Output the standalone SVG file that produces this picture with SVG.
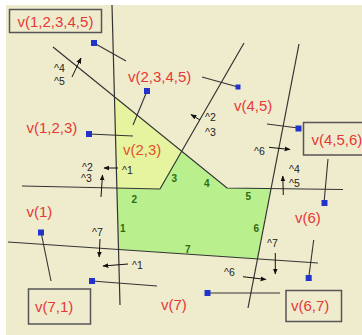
<svg xmlns="http://www.w3.org/2000/svg" width="362" height="335" viewBox="0 0 362 335">
<defs>
<marker id="ah" viewBox="0 0 10 10" refX="9" refY="5" markerWidth="6" markerHeight="6" orient="auto" markerUnits="userSpaceOnUse">
<path d="M0,1 L10,5 L0,9 z" fill="#111"/>
</marker>
<style>
.ln{stroke:#333;stroke-width:1.2;fill:none}
.cn{stroke:#333;stroke-width:1.1;fill:none}
.ar{stroke:#111;stroke-width:1;fill:none;marker-end:url(#ah)}
.dot{fill:#2233cc}
.red{font-family:"Liberation Sans",Arial,sans-serif;font-size:15px;fill:#e53935}
.hat{font-family:"Liberation Sans",Arial,sans-serif;font-size:10.5px;fill:#222}
.edge{font-family:"Liberation Sans",Arial,sans-serif;font-size:10px;font-weight:bold;fill:#2e6b14}
.box{fill:none;stroke:#555;stroke-width:1.5}
</style>
</defs>
<rect x="0" y="0" width="362" height="335" fill="#ffffff"/>
<rect x="6" y="5" width="356" height="330" fill="#efecce"/>

<g id="regions">
<polygon points="114.5,97 182,151 160,189 117,188" fill="#e6f4a0"/>
<polygon points="117,188 160,189 182,151 227,188 271,188 257.5,259 118.6,249.5" fill="#b9ef8c"/>
</g>

<g id="connectors">
<line class="ln" x1="112" y1="5" x2="120" y2="305"/>
<polyline class="ln" points="53,47 227,188 343,189.5"/>
<polyline class="ln" points="22,186 160,189 244,43"/>
<line class="ln" x1="299" y1="44" x2="248" y2="308"/>
<line class="ln" x1="8" y1="242" x2="318" y2="263"/>

<line class="cn" x1="94" y1="43" x2="126" y2="61"/>
<line class="cn" x1="147" y1="91" x2="133" y2="125"/>
<line class="cn" x1="89" y1="134" x2="133" y2="136"/>
<line class="cn" x1="202" y1="77" x2="238" y2="87"/>
<line class="cn" x1="267" y1="124" x2="298" y2="128"/>
<line class="cn" x1="328" y1="159" x2="324" y2="203"/>
<line class="cn" x1="41" y1="232" x2="51" y2="281"/>
<line class="cn" x1="92" y1="281" x2="157" y2="286"/>
<line class="cn" x1="313.7" y1="240" x2="308.7" y2="278"/>
<line class="cn" x1="207" y1="293" x2="280" y2="293"/>

<line class="ar" x1="72" y1="77" x2="81" y2="58"/>
<line class="ar" x1="200" y1="120" x2="191" y2="114.5"/>
<line class="ar" x1="118" y1="168" x2="104" y2="168"/>
<line class="ar" x1="101" y1="197" x2="102.5" y2="175"/>
<line class="ar" x1="269" y1="147.3" x2="290" y2="149.5"/>
<line class="ar" x1="283.3" y1="195" x2="282.8" y2="176"/>
<line class="ar" x1="100" y1="239" x2="99.2" y2="257"/>
<line class="ar" x1="128" y1="264" x2="103" y2="266"/>
<line class="ar" x1="275.3" y1="253" x2="275.3" y2="274"/>
<line class="ar" x1="243" y1="276.7" x2="266" y2="279.5"/>
</g>

<g id="dots">
<rect class="dot" x="91" y="40" width="6" height="6"/>
<rect class="dot" x="144" y="88" width="6" height="6"/>
<rect class="dot" x="86" y="131" width="6" height="6"/>
<rect class="dot" x="235.5" y="84.5" width="5" height="5"/>
<rect class="dot" x="295.5" y="125.5" width="6" height="6"/>
<rect class="dot" x="321.5" y="200" width="6" height="6"/>
<rect class="dot" x="38" y="229.5" width="6" height="6"/>
<rect class="dot" x="89" y="278" width="6" height="6"/>
<rect class="dot" x="305.7" y="275" width="6" height="6"/>
<rect class="dot" x="204.5" y="290" width="6" height="6"/>
</g>

<g id="node-v12345">
<rect class="box" x="9.5" y="9.5" width="92" height="23"/>
<text class="red" x="17.5" y="27">v(1,2,3,4,5)</text>
</g>
<g id="node-v2345"><text class="red" x="128" y="82">v(2,3,4,5)</text></g>
<g id="node-v45"><text class="red" x="234" y="111">v(4,5)</text></g>
<g id="node-v123"><text class="red" x="26.5" y="133">v(1,2,3)</text></g>
<g id="node-v23"><text class="red" x="123" y="155" style="fill:#e4512a">v(2,3)</text></g>
<g id="node-v456">
<rect class="box" x="303.5" y="122.5" width="62" height="32.5"/>
<text class="red" x="311.5" y="145">v(4,5,6)</text>
</g>
<g id="node-v1"><text class="red" x="26.5" y="217">v(1)</text></g>
<g id="node-v6"><text class="red" x="295" y="223">v(6)</text></g>
<g id="node-v71">
<rect class="box" x="28.5" y="289" width="62" height="35"/>
<text class="red" x="35" y="312">v(7,1)</text>
</g>
<g id="node-v7"><text class="red" x="161" y="310">v(7)</text></g>
<g id="node-v67">
<rect class="box" x="286" y="290.5" width="55.5" height="31"/>
<text class="red" x="291" y="311">v(6,7)</text>
</g>

<g id="hat-labels">
<text class="hat" x="54" y="72">^4</text>
<text class="hat" x="54" y="85">^5</text>
<text class="hat" x="205" y="120.5">^2</text>
<text class="hat" x="205" y="135.5">^3</text>
<text class="hat" x="82" y="170.5">^2</text>
<text class="hat" x="122" y="174">^1</text>
<text class="hat" x="81" y="182">^3</text>
<text class="hat" x="254" y="154.5">^6</text>
<text class="hat" x="289" y="173">^4</text>
<text class="hat" x="289" y="186.5">^5</text>
<text class="hat" x="92" y="235.5">^7</text>
<text class="hat" x="132" y="269">^1</text>
<text class="hat" x="267" y="247">^7</text>
<text class="hat" x="224" y="275.5">^6</text>
</g>

<g id="edge-labels">
<text class="edge" x="120" y="231.5">1</text>
<text class="edge" x="131.5" y="202.5">2</text>
<text class="edge" x="171.5" y="181.5">3</text>
<text class="edge" x="204" y="186.5">4</text>
<text class="edge" x="245.5" y="199.5">5</text>
<text class="edge" x="253.5" y="232">6</text>
<text class="edge" x="185" y="252.5">7</text>
</g>
</svg>
